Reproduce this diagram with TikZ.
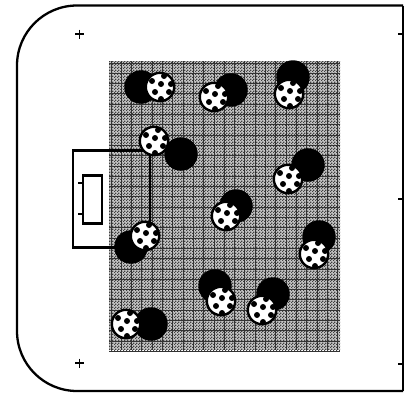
\documentclass[tikz,border=0pt]{standalone}
\usepackage{tikz}
\usetikzlibrary{patterns}
\pgfdeclarepatternformonly{turfchecks}{\pgfqpoint{0pt}{0pt}}{\pgfqpoint{3pt}{3pt}}{\pgfqpoint{3pt}{3pt}}{%
  \pgfpathrectangle{\pgfqpoint{0pt}{0pt}}{\pgfqpoint{1.5pt}{1.5pt}}%
  \pgfpathrectangle{\pgfqpoint{1.5pt}{1.5pt}}{\pgfqpoint{1.5pt}{1.5pt}}%
  \pgfusepath{fill}}

\begin{document}
\begin{tikzpicture}[
    x=1pt, y=-1pt,
    pitchline/.style={draw, line width=2.3pt},
    player/.style={circle, fill=black, minimum size=33.5pt, inner sep=0pt},
    ball/.pic={
        \draw[line width=2.4pt, fill=white] (0,0) circle (14.2pt);
        \foreach \dotx/\doty in {1/-3, -8/-6, 4/-11, 11/-3, -5/5, 9/5, 1/12}
            \fill (\dotx,\doty) circle (3pt);
    }
]
\useasboundingbox (0,0) rectangle (405,392);

% Turf
\fill[white] (0,0) rectangle (405,392);
\fill[gray!45] (109,61) rectangle (340,350);
\fill[pattern=turfchecks, pattern color=black!75] (109,61) rectangle (340,350);
\foreach \linex in {0,...,22}
    \draw[black!80, line width=1pt] (111+10.3*\linex,61) -- (111+10.3*\linex,350);
\foreach \liney in {0,...,28}
    \draw[black!80, line width=1pt] (109,63+10.3*\liney) -- (340,63+10.3*\liney);

% Pitch outline
\draw[pitchline, rounded corners=60pt] (403,5.5) -- (17,5.5) -- (17,391) -- (403,391);
\draw[pitchline] (403,5.5) -- (403,391);
\draw[pitchline] (73,150.5) rectangle (150,247.5);
\draw[pitchline] (83,175.5) rectangle (102,223.5);

% Marks
\foreach \marky in {34,363} {
    \draw[line width=1.6pt] (75,\marky) -- (84,\marky);
    \draw[line width=1.6pt] (79.5,\marky-4.5) -- (79.5,\marky+4.5);
}
\foreach \marky in {34,199,364}
    \draw[line width=1.6pt] (398,\marky) -- (403,\marky);
\foreach \marky in {183,214}
    \draw[line width=1.6pt] (78,\marky) -- (83,\marky);

% Players and balls
\foreach \px/\py/\bx/\by [count=\i] in {
    141/87/160/87, 181/154/154/141, 231/90/214/97, 293/77/289/94,
    308/165/288/179, 236/206/226/216, 319/237/314/254, 215/286/221/301,
    273/294/262/310, 131/247/145/236, 151/324/126/324} {
    \node[player] (player\i) at (\px,\py) {};
    \pic at (\bx,\by) {ball};
}
\end{tikzpicture}
\end{document}
